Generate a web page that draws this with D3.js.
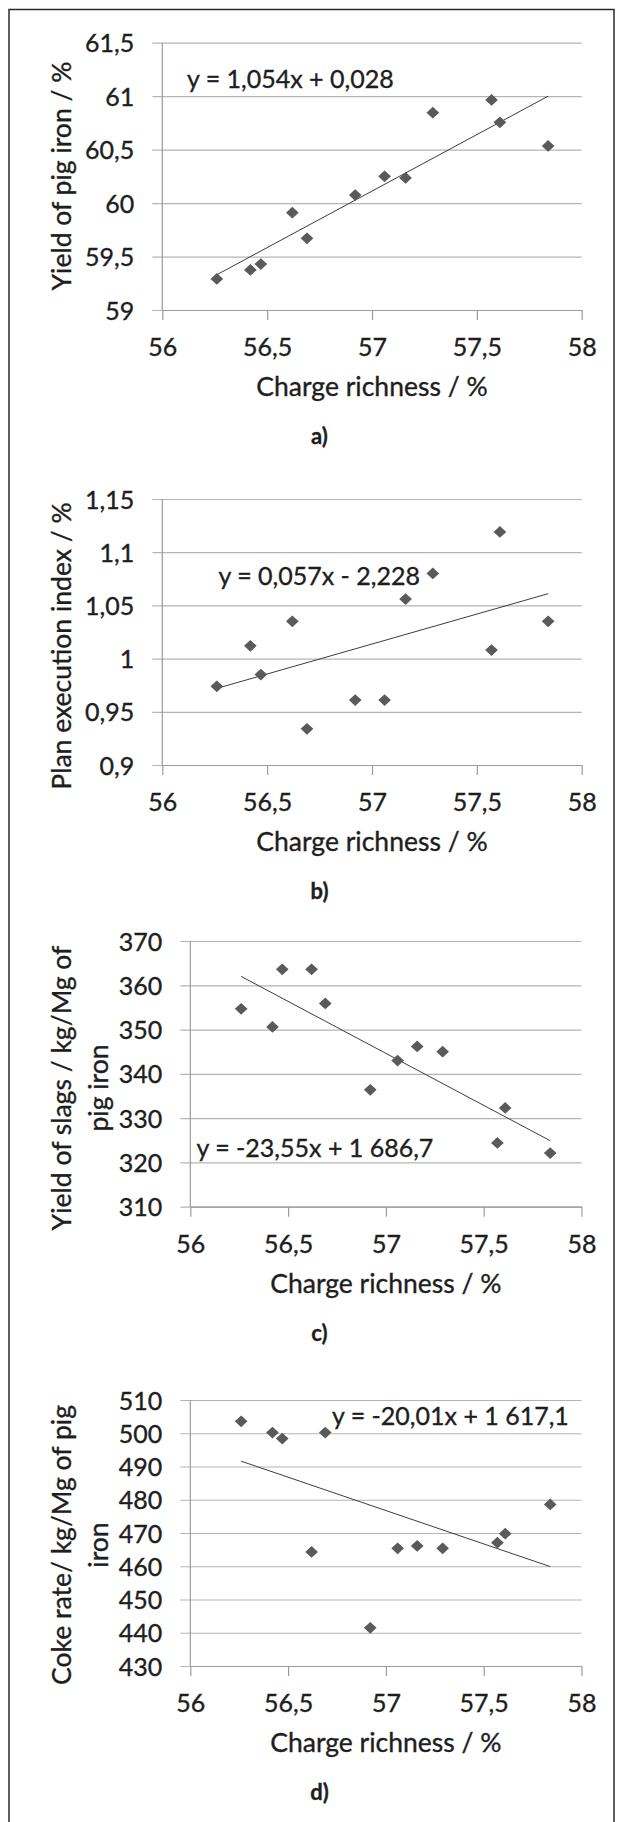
<!DOCTYPE html>
<html>
<head>
<meta charset="utf-8">
<script src="https://cdn.jsdelivr.net/npm/d3@7"></script>
<style>
  html, body { margin: 0; padding: 0; background: #fff; }
  svg { display: block; }
  text { font-family: Lato, "Open Sans", sans-serif; fill: #1e1e1e; stroke: #1e1e1e; stroke-width: 0.35px; }
</style>
</head>
<body>
<svg id="chart" width="619" height="1822"></svg>
<script>
// ---------------- data ----------------
const chargeRichness = [56.26, 56.42, 56.47, 56.62, 56.69, 56.92, 57.06, 57.16, 57.29, 57.57, 57.61, 57.84];
const yieldPigIron   = [59.29, 59.375, 59.43, 59.91, 59.67, 60.075, 60.25, 60.235, 60.845, 60.965, 60.755, 60.535];
const planIndex      = [0.974, 1.012, 0.985, 1.035, 0.934, 0.961, 0.961, 1.056, 1.080, 1.008, 1.119, 1.035];
const slagYield      = [354.7, 350.6, 363.6, 363.6, 355.9, 336.4, 343.0, 346.2, 345.0, 324.4, 332.3, 322.1];
const cokeRate       = [503.6, 500.2, 498.4, 464.3, 500.2, 441.5, 465.4, 466.1, 465.4, 467.1, 469.8, 478.6];

// trend line values at the first and last x (as drawn)
const trendA = [59.33, 61.0];
const trendB = [0.972, 1.061];
const trendC = [362.0, 324.9];
const trendD = [491.6, 459.9];

const xTicks      = [56, 56.5, 57, 57.5, 58];
const xTickLabels = ["56", "56,5", "57", "57,5", "58"];
const yTicksA = [59, 59.5, 60, 60.5, 61, 61.5];
const yTickLabelsA = ["59", "59,5", "60", "60,5", "61", "61,5"];
const yTicksB = [0.9, 0.95, 1, 1.05, 1.1, 1.15];
const yTickLabelsB = ["0,9", "0,95", "1", "1,05", "1,1", "1,15"];
const yTicksC = [310, 320, 330, 340, 350, 360, 370];
const yTickLabelsC = ["310", "320", "330", "340", "350", "360", "370"];
const yTicksD = [430, 440, 450, 460, 470, 480, 490, 500, 510];
const yTickLabelsD = ["430", "440", "450", "460", "470", "480", "490", "500", "510"];

const equations = ["y = 1,054x + 0,028", "y = 0,057x - 2,228", "y = -23,55x + 1 686,7", "y = -20,01x + 1 617,1"];
const yTitles = [["Yield of pig iron / %"], ["Plan execution index / %"], ["Yield of slags / kg/Mg of", "pig iron"], ["Coke rate/ kg/Mg of pig", "iron"]];
const xTitle = "Charge richness / %";
const captions = ["a)", "b)", "c)", "d)"];

// ---------------- layout ----------------
const layouts = [
  { left: 162.3, right: 581.7, top: 42.7, bottom: 310,   eqX: 187,   eqY: 88,     titleY: 176 },
  { left: 162.3, right: 581.7, top: 499,  bottom: 765,   eqX: 218.5, eqY: 585,    titleY: 646 },
  { left: 190.3, right: 581.5, top: 941,  bottom: 1206.7, eqX: 196.5, eqY: 1157,  titleY: 1088 },
  { left: 190.3, right: 581.5, top: 1400, bottom: 1666,  eqX: 332,   eqY: 1425,   titleY: 1545 }
];
const panels = [
  { y: yieldPigIron, trend: trendA, ticks: yTicksA, labels: yTickLabelsA },
  { y: planIndex,    trend: trendB, ticks: yTicksB, labels: yTickLabelsB },
  { y: slagYield,    trend: trendC, ticks: yTicksC, labels: yTickLabelsC },
  { y: cokeRate,     trend: trendD, ticks: yTicksD, labels: yTickLabelsD }
];

const svg = d3.select("#chart");

// outer frame
svg.append("rect")
  .attr("x", 9).attr("y", 9.5).attr("width", 605).attr("height", 1840)
  .attr("fill", "none").attr("stroke", "#2b2b2b").attr("stroke-width", 1.5);

const gridColor = "#b4b4b4";
const axisColor = "#9c9c9c";
const tickFont = 25;

panels.forEach((p, i) => {
  const L = layouts[i];
  const g = svg.append("g");
  const x = d3.scaleLinear().domain([xTicks[0], xTicks[xTicks.length - 1]]).range([L.left, L.right]);
  const y = d3.scaleLinear().domain([p.ticks[0], p.ticks[p.ticks.length - 1]]).range([L.bottom, L.top]);
  const w = L.right - L.left;

  // y axis with gridlines
  const yAxis = d3.axisLeft(y).tickValues(p.ticks)
    .tickFormat((d, k) => p.labels[k])
    .tickSizeInner(-(w + 10)).tickSizeOuter(0).tickPadding(18);
  const ya = g.append("g").attr("transform", `translate(${L.left - 10},0)`).call(yAxis);
  ya.select(".domain").remove();
  ya.selectAll("line").attr("stroke", gridColor).attr("stroke-width", 1.2);
  ya.selectAll("text").attr("font-size", tickFont).attr("dy", "0.36em")
    .style("font-family", "Lato").attr("fill", "#1e1e1e");

  // vertical axis line
  g.append("line").attr("x1", L.left).attr("x2", L.left).attr("y1", L.top).attr("y2", L.bottom)
    .attr("stroke", axisColor).attr("stroke-width", 1.2);

  // x axis
  const xAxis = d3.axisBottom(x).tickValues(xTicks)
    .tickFormat((d, k) => xTickLabels[k])
    .tickSizeInner(10).tickSizeOuter(0);
  const xa = g.append("g").attr("transform", `translate(0,${L.bottom})`).call(xAxis);
  xa.select(".domain").attr("stroke", axisColor).attr("stroke-width", 1.2);
  xa.selectAll("line").attr("stroke", axisColor).attr("stroke-width", 1.2);
  xa.selectAll("text").attr("font-size", tickFont).attr("y", 46).attr("dy", 0)
    .style("font-family", "Lato").attr("fill", "#1e1e1e");

  // trend line
  const xs = [d3.min(chargeRichness), d3.max(chargeRichness)];
  g.append("line")
    .attr("x1", x(xs[0])).attr("y1", y(p.trend[0]))
    .attr("x2", x(xs[1])).attr("y2", y(p.trend[1]))
    .attr("stroke", "#3c3c3c").attr("stroke-width", 1);

  // markers (diamonds)
  const diamond = d3.symbol().type(d3.symbolDiamond2).size(88);
  g.selectAll("path.pt").data(chargeRichness).enter().append("path")
    .attr("class", "pt")
    .attr("d", diamond)
    .attr("transform", (d, k) => `translate(${x(d)},${y(p.y[k])}) scale(1.08,1)`)
    .attr("fill", "#5a5a5a");

  // equation
  g.append("text").attr("x", L.eqX).attr("y", L.eqY)
    .attr("font-size", tickFont).text(equations[i]);

  // x title
  g.append("text").attr("x", (L.left + L.right) / 2).attr("y", L.bottom + 86)
    .attr("text-anchor", "middle").attr("font-size", 26.5).text(xTitle);

  // y title (rotated, possibly two lines)
  const lines = yTitles[i];
  lines.forEach((t, k) => {
    const bx = 70.5 + k * 37.7;
    g.append("text")
      .attr("transform", `translate(${bx},${L.titleY}) rotate(-90)`)
      .attr("text-anchor", "middle").attr("font-size", 26.5).text(t);
  });

  // caption
  g.append("text").attr("x", 319.5).attr("y", L.bottom + 134)
    .attr("text-anchor", "middle").attr("font-size", 22).attr("font-weight", 700)
    .text(captions[i]);
});
</script>
</body>
</html>
